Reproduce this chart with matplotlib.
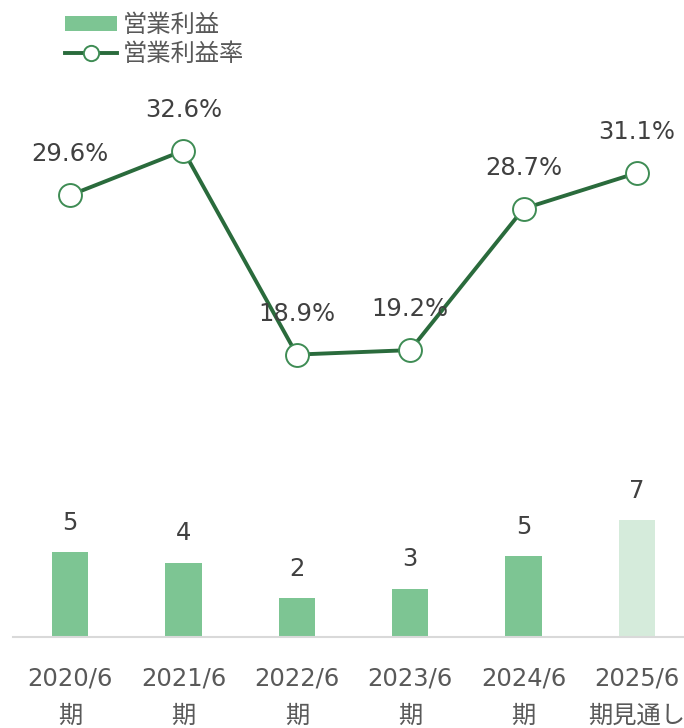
import matplotlib
matplotlib.use("Agg")
import matplotlib.pyplot as plt
from matplotlib.lines import Line2D
from matplotlib.patches import Patch

plt.rcParams['font.family'] = ['DejaVu Sans', 'Noto Sans CJK JP']

categories = ["2020/6\n期", "2021/6\n期", "2022/6\n期", "2023/6\n期", "2024/6\n期", "2025/6\n期見通し"]
profit = [5.1, 4.45, 2.35, 2.9, 4.85, 7.0]
margin = [29.6, 32.6, 18.9, 19.2, 28.7, 31.1]
forecast = [False, False, False, False, False, True]

bar_color = "#7DC593"
bar_fc_color = "#D5EBDB"
line_color = "#2A6B3C"
marker_edge = "#3E8C54"
text_color = "#404040"
tick_color = "#595959"
fs = 17.5

fig = plt.figure(figsize=(6.84, 7.28), dpi=100)
W, H = 684, 728
left_px, right_px = 13.3, 693.7
top_px, bottom_px = 60, 637
ax = fig.add_axes([left_px / W, (H - bottom_px) / H, (right_px - left_px) / W, (bottom_px - top_px) / H])
x = list(range(len(categories)))
colors = [bar_fc_color if f else bar_color for f in forecast]
bars = ax.bar(x, profit, width=0.32, color=colors, zorder=2)
ax.set_xlim(-0.5, len(categories) - 0.5)
ax.set_ylim(0, (bottom_px - top_px) / 16.71)
for xi, v in zip(x, profit):
    ax.annotate(f"{v:.0f}", (xi, v), xytext=(0, 21), textcoords="offset points",
                ha="center", va="center", fontsize=fs, color=text_color)

ax.set_xticks(x)
ax.set_xticklabels(categories, fontsize=fs, color=tick_color, linespacing=1.72)
ax.tick_params(axis='x', length=0, pad=21)
ax.set_yticks([])
for s in ["top", "left", "right"]:
    ax.spines[s].set_visible(False)
ax.spines["bottom"].set_color("#D9D9D9")
ax.spines["bottom"].set_linewidth(1.5)

ax2 = ax.twinx()
scale = 14.89
ax2.set_ylim(-1 / scale, (636 - top_px) / scale)
ax2.plot(x, margin, color=line_color, lw=2.8, marker='o', markersize=16.5,
         markerfacecolor='white', markeredgecolor=marker_edge, markeredgewidth=1.4, zorder=3)
for xi, v in zip(x, margin):
    ax2.annotate(f"{v:.1f}%", (xi, v), xytext=(0, 29.5), textcoords="offset points",
                 ha="center", va="center", fontsize=fs, color=text_color)
ax2.set_yticks([])
for s in ax2.spines.values():
    s.set_visible(False)

handles = [Patch(facecolor=bar_color, edgecolor='none'),
           Line2D([0], [0], color=line_color, lw=2.8, marker='o', markersize=11,
                  markerfacecolor='white', markeredgecolor=marker_edge, markeredgewidth=1.4)]
leg = fig.legend(handles, ["営業利益", "営業利益率"], loc="upper left",
                 bbox_to_anchor=(65 / W, 1 - 13 / H), frameon=False, fontsize=fs,
                 handlelength=2.14, handletextpad=0.22, handleheight=0.62,
                 labelspacing=0.22, borderpad=0, borderaxespad=0)
for t in leg.get_texts():
    t.set_color(tick_color)

fig.savefig("out.png", dpi=100)
